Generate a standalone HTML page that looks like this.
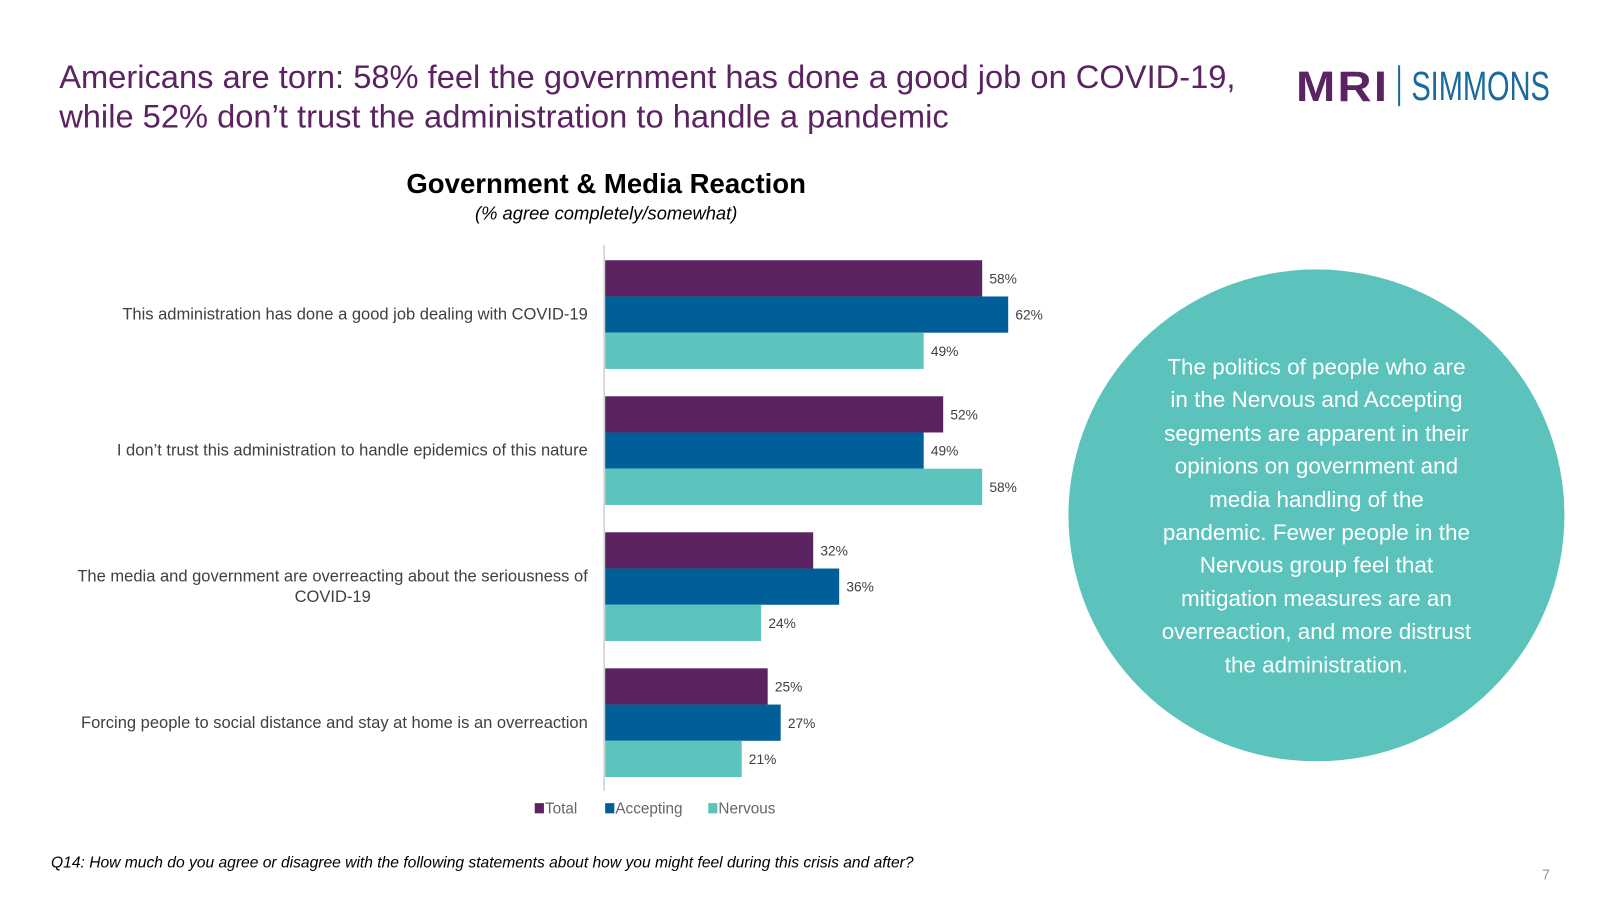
<!DOCTYPE html>
<html><head><meta charset="utf-8"><style>
body{margin:0;width:1600px;height:900px;overflow:hidden;background:#fff;font-family:"Liberation Sans",sans-serif}
#wrap{position:absolute;left:0;top:0;width:1568px;height:882px;transform:scale(1.0205);transform-origin:0 0}
.abs{position:absolute}
</style></head><body>
<div id="wrap">
<div class="abs" style="left:58px;top:56px;font-size:32px;line-height:39px;color:#5c2362">Americans are torn: 58% feel the government has done a good job on COVID-19,<br>while 52% don’t trust the administration to handle a pandemic</div>
<div class="abs" style="left:1270px;top:62px;height:44px;width:260px">
 <span class="abs" style="left:0;top:-1px;font-size:42px;font-weight:900;color:#5c2362;letter-spacing:2px;transform:scaleX(1.1);transform-origin:0 0">MRI</span>
 <div class="abs" style="left:100px;top:2px;width:2px;height:40px;background:#1a6a9a"></div>
 <span class="abs" style="left:113px;top:1px;font-size:40px;color:#1a6a9a;transform:scaleX(0.71);transform-origin:0 0">SIMMONS</span>
</div>
<div class="abs" style="left:294px;width:600px;text-align:center;top:165px;font-size:27px;font-weight:bold;color:#000">Government &amp; Media Reaction</div>
<div class="abs" style="left:294px;width:600px;text-align:center;top:199px;font-size:18px;font-style:italic;color:#000">(% agree completely/somewhat)</div>
<svg class="abs" style="left:0;top:0" width="1568" height="882" id="chart"></svg>
<div class="abs" style="left:1047px;top:264px;width:486px;height:482px;border-radius:50%;background:#5bc3bc"></div>
<div class="abs" style="left:1090px;top:344px;width:400px;text-align:center;color:#fff;font-size:22px;line-height:32.4px">The politics of people who are<br>in the Nervous and Accepting<br>segments are apparent in their<br>opinions on government and<br>media handling of the<br>pandemic. Fewer people in the<br>Nervous group feel that<br>mitigation measures are an<br>overreaction, and more distrust<br>the administration.</div>
<div class="abs" style="left:50px;top:837px;font-size:15.3px;font-style:italic;color:#000">Q14: How much do you agree or disagree with the following statements about how you might feel during this crisis and after?</div>
<div class="abs" style="left:1511px;top:849px;font-size:14px;color:#999">7</div>
</div>
<script>
const categories=["This administration has done a good job dealing with COVID-19","I don’t trust this administration to handle epidemics of this nature","The media and government are overreacting about the seriousness of|COVID-19","Forcing people to social distance and stay at home is an overreaction"];
const seriesNames=["Total","Accepting","Nervous"];
const total=[58,52,32,25];
const accepting=[62,49,36,27];
const nervous=[49,58,24,21];
const colors=["#5c2362","#005f99","#5bc4bd"];
const svg=document.getElementById('chart');const NS="http://www.w3.org/2000/svg";
const x0=592,pxPer=6.37,top0=255,groupH=133.3,barH=35.5;
const xs=v=>v*pxPer;
function mk(t,a){const e=document.createElementNS(NS,t);for(const k in a)e.setAttribute(k,a[k]);svg.appendChild(e);return e;}
const ax=mk('line',{x1:x0,x2:x0,y1:240,y2:775,stroke:'#d0d0d0','stroke-width':1.5});


const series=[total,accepting,nervous];
categories.forEach((c,i)=>{
 const gy=top0+i*groupH;
 const lines=c.split('|');const cy=gy+barH*1.5;
 lines.forEach((ln,j)=>{
  const t=mk('text',{x:(lines.length>1&&j==1)?326:576,y:cy+5+(j-(lines.length-1)/2)*20,'text-anchor':lines.length>1&&j==1?'middle':'end','font-size':16.2,fill:'#404040','font-family':'Liberation Sans, sans-serif'});
  t.textContent=ln;
  
  
 });
 series.forEach((s,k)=>{
  const y=gy+k*barH;
  const r=mk('rect',{x:x0+1,y:y,width:xs(s[i]),height:barH,fill:colors[k]});
  
  
  const t=mk('text',{x:x0+1+xs(s[i])+7,y:y+barH/2+5,'font-size':13.5,fill:'#404040','font-family':'Liberation Sans, sans-serif'});
  t.textContent=s[i]+'%';
  
  
 });
});
let lx=524;
seriesNames.forEach((n,k)=>{
 const r=mk('rect',{x:lx,y:787,width:9,height:10,fill:colors[k]});
 
 
 const t=mk('text',{x:lx+10,y:797,'font-size':15,fill:'#666','font-family':'Liberation Sans, sans-serif'});
 t.textContent=n;
 
 
 lx+=[69,101,0][k];
});
</script>
</body></html>
